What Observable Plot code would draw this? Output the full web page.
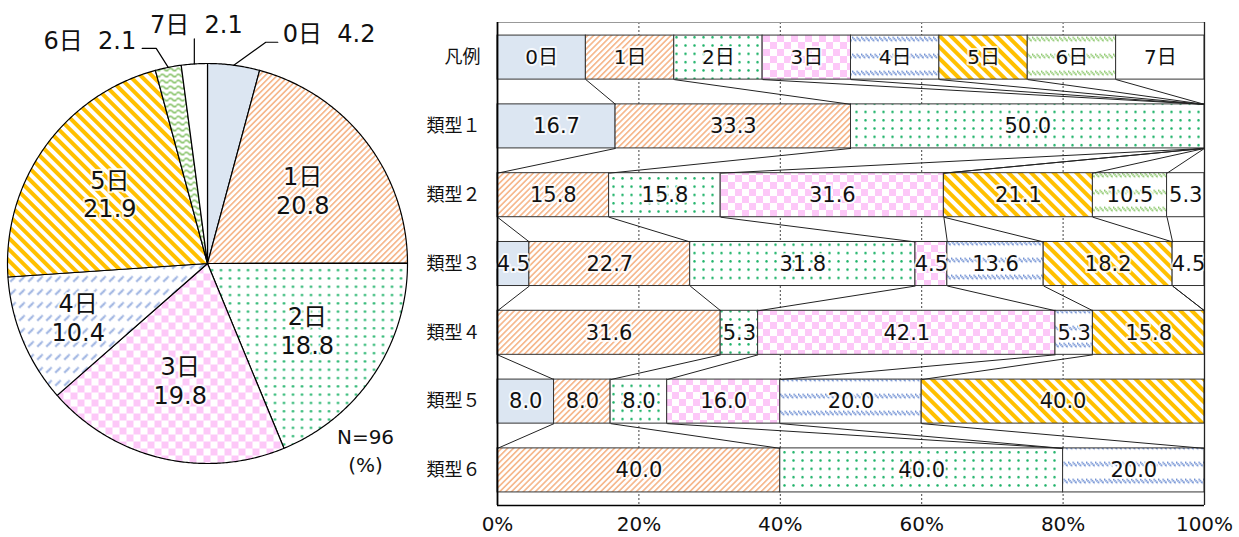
<!DOCTYPE html>
<html><head><meta charset="utf-8">
<script src="https://cdn.jsdelivr.net/npm/d3@7"></script>
<script src="https://cdn.jsdelivr.net/npm/@observablehq/plot@0.6"></script>
<style>
html,body{margin:0;padding:0;background:#fff;}
#wrap{display:flex;width:1239px;height:537px;overflow:hidden;}
#pie,#bar{flex:none;}
</style></head><body>
<svg width="0" height="0" style="position:absolute">
<defs>
<pattern id="p1" patternUnits="userSpaceOnUse" width="4.2" height="4.2" patternTransform="rotate(-45)"><rect width="4.2" height="4.2" fill="#fff"/><rect width="4.2" height="1.7" fill="#f6b98f"/></pattern>
<pattern id="p2" patternUnits="userSpaceOnUse" width="9" height="8.3"><rect width="9" height="8.3" fill="#fff"/><circle cx="4.5" cy="4.1" r="1.25" fill="#1fb36a"/></pattern>
<pattern id="p3" patternUnits="userSpaceOnUse" width="14" height="14"><rect width="14" height="14" fill="#fff"/><rect width="7" height="7" fill="#fdc8f8"/><rect x="7" y="7" width="7" height="7" fill="#fdc8f8"/></pattern>
<pattern id="p4" patternUnits="userSpaceOnUse" width="4.5" height="17"><rect width="4.5" height="17" fill="#fff"/><line x1="0" y1="3" x2="4.5" y2="7.5" stroke="#6f8fd3" stroke-width="2" stroke-dasharray="1.4,0.6"/></pattern>
<pattern id="p4pie" patternUnits="userSpaceOnUse" width="9" height="13"><rect width="9" height="13" fill="#fff"/><line x1="1" y1="8" x2="6" y2="3" stroke="#6f8fd3" stroke-width="2" stroke-dasharray="1.4,0.6"/></pattern>
<pattern id="p5" patternUnits="userSpaceOnUse" width="8" height="8" patternTransform="rotate(45)"><rect width="8" height="8" fill="#fff"/><rect width="8" height="4" fill="#ffc000"/></pattern>
<pattern id="p6" patternUnits="userSpaceOnUse" width="4.5" height="17"><rect width="4.5" height="17" fill="#fff"/><line x1="0" y1="3" x2="4.5" y2="7.5" stroke="#8cc86c" stroke-width="2" stroke-dasharray="1.4,0.6"/></pattern>
<pattern id="p6pie" patternUnits="userSpaceOnUse" width="8" height="6"><rect width="8" height="6" fill="#fff"/><path d="M0,3 Q2,0.5 4,3 T8,3" fill="none" stroke="#7fbf5f" stroke-width="1.6"/></pattern>
</defs></svg>
<div id="wrap"><div id="pie"></div><div id="bar"></div></div>
<script>
// ---- data ----
const cats = ["0日","1日","2日","3日","4日","5日","6日","7日"];
const pieValues = [4.2, 20.8, 18.8, 19.8, 10.4, 21.9, 2.1, 2.1];
const pieN = "N=96";
const rowLabels = ["凡例","類型１","類型２","類型３","類型４","類型５","類型６"];
const legendShares = [1,1,1,1,1,1,1,1];
const type1 = [16.7, 33.3, 50.0, 0, 0, 0, 0, 0];
const type2 = [0, 15.8, 15.8, 31.6, 0, 21.1, 10.5, 5.3];
const type3 = [4.5, 22.7, 31.8, 4.5, 13.6, 18.2, 0, 4.5];
const type4 = [0, 31.6, 5.3, 42.1, 5.3, 15.8, 0, 0];
const type5 = [8.0, 8.0, 8.0, 16.0, 20.0, 40.0, 0, 0];
const type6 = [0, 40.0, 40.0, 0, 20.0, 0, 0, 0];
const xTicks = [0, 20, 40, 60, 80, 100];

// ---- styles ----
const barFills = ["#dce6f2","url(#p1)","url(#p2)","url(#p3)","url(#p4)","url(#p5)","url(#p6)","#ffffff"];
const pieFills = ["#dce6f2","url(#p1)","url(#p2)","url(#p3)","url(#p4pie)","url(#p5)","url(#p6pie)","#ffffff"];
const FONT = "'DejaVu Sans','Noto Sans CJK JP',sans-serif";
const JFONT = "'Noto Sans CJK JP',sans-serif";

// ---- pie ----
const total = d3.sum(pieValues);
let acc = 0;
const slices = pieValues.map((v, k) => {
  const a0 = acc / total * 2 * Math.PI; acc += v;
  const a1 = acc / total * 2 * Math.PI;
  return {k, v, a0, a1, mid: (a0 + a1) / 2};
});
const pieLines = [];
for (const s of slices) {
  const n = Math.max(2, Math.ceil((s.a1 - s.a0) / (Math.PI / 360)));
  pieLines.push({cat: cats[s.k], x: 0, y: 0, fill: pieFills[s.k]});
  for (let i = 0; i <= n; i++) {
    const a = s.a0 + (s.a1 - s.a0) * i / n;
    pieLines.push({cat: cats[s.k], x: Math.sin(a), y: Math.cos(a), fill: pieFills[s.k]});
  }
  pieLines.push({cat: cats[s.k], x: 0, y: 0, fill: pieFills[s.k]});
}
const inner = slices.filter(s => s.v > 5).map(s => {
  const r = s.k === 4 ? 0.70 : 0.60;
  return {x: r * Math.sin(s.mid), y: r * Math.cos(s.mid), text: cats[s.k] + "\n" + pieValues[s.k].toFixed(1)};
});
// outside labels: leader offsets in px (layout)
const R = 200;
const outerLayout = {0: {ex: 32, ey: -23, tx: 12, anchor: "start", gx: 5, gy: -8},
                     6: {ex: -12, ey: -19, tx: -14, anchor: "end", gx: -6, gy: -7},
                     7: {ex: 0, ey: -25, tx: 0, anchor: "middle", gx: 2, gy: -14}};
const leader = [], outer = [];
for (const s of slices.filter(s => s.v <= 5)) {
  const L = outerLayout[s.k];
  const sx = Math.sin(s.mid), sy = Math.cos(s.mid);
  const ex = sx + L.ex / R, ey = sy - L.ey / R;
  const tx = ex + L.tx / R;
  leader.push({id: s.k, x: sx, y: sy}, {id: s.k, x: ex, y: ey}, {id: s.k, x: tx, y: ey});
  outer.push({x: tx + L.gx / R, y: ey - L.gy / R, text: cats[s.k] + "\u00a0\u00a0" + pieValues[s.k].toFixed(1), anchor: L.anchor});
}

const pie = Plot.plot({
  width: 420, height: 537,
  marginLeft: 7, marginRight: 13, marginTop: 63, marginBottom: 74,
  x: {domain: [-1, 1], axis: null},
  y: {domain: [-1, 1], axis: null},
  color: {type: "identity"},
  style: {fontFamily: FONT, fontSize: "24px", background: "white", overflow: "visible"},
  marks: [
    Plot.line(pieLines, {x: "x", y: "y", z: "cat", fill: "fill", stroke: "#000", strokeWidth: 1.2, strokeLinejoin: "round"}),
    Plot.text(inner, {x: "x", y: "y", text: "text", lineHeight: 1.2, fill: "#111", stroke: "white", strokeWidth: 4, strokeOpacity: 0.8, fontSize: 24}),
    Plot.line(leader, {x: "x", y: "y", z: "id", stroke: "#000", strokeWidth: 1.2}),
    Plot.text(outer, {x: "x", y: "y", text: "text", textAnchor: "start", fill: "#111", fontSize: 24, filter: d => d.anchor === "start"}),
    Plot.text(outer, {x: "x", y: "y", text: "text", textAnchor: "end", fill: "#111", fontSize: 24, filter: d => d.anchor === "end"}),
    Plot.text(outer, {x: "x", y: "y", text: "text", textAnchor: "middle", fill: "#111", fontSize: 24, filter: d => d.anchor === "middle"}),
    Plot.text([pieN + "\n(%)"], {x: 0.79, y: -0.93, text: d => d, fontSize: 20, lineHeight: 1.4, fill: "#111"})
  ]
});
document.getElementById("pie").appendChild(pie);

// ---- bars ----
const rows = [legendShares, type1, type2, type3, type4, type5, type6];
const HALF = 0.32;
const bars = [], cumEnds = [];
rows.forEach((vals, r) => {
  const t = d3.sum(vals);
  let c = 0;
  const ends = [];
  vals.forEach((v, k) => {
    const x1 = c / t * 100; c += v;
    const x2 = c / t * 100;
    ends.push(x2);
    if (v > 0) bars.push({r, k, x1, x2, fill: barFills[k],
      label: r === 0 ? cats[k] : v.toFixed(1)});
  });
  cumEnds.push(ends);
});
const links = [];
for (let r = 0; r < rows.length - 1; r++) {
  for (let k = 0; k < cats.length - 1; k++) {
    links.push({x1: cumEnds[r][k], y1: r + HALF, x2: cumEnds[r + 1][k], y2: r + 1 - HALF});
  }
}
const YTOP = -0.51, YBOT = 6.51;
const bar = Plot.plot({
  width: 819, height: 537,
  marginLeft: 77, marginRight: 35, marginTop: 22, marginBottom: 32,
  x: {domain: [0, 100]},
  y: {domain: [YBOT, YTOP]},
  color: {type: "identity"},
  style: {fontFamily: FONT, fontSize: "20px", background: "white", overflow: "visible"},
  marks: [
    Plot.ruleX([20, 40, 60, 80], {stroke: "#444", strokeDasharray: "2,2", strokeWidth: 1}),
    Plot.rect(bars, {x1: "x1", x2: "x2", y1: d => d.r - HALF, y2: d => d.r + HALF, fill: "fill", stroke: "#333", strokeWidth: 1}),
    Plot.link(links, {x1: "x1", y1: "y1", x2: "x2", y2: "y2", stroke: "#222", strokeWidth: 1}),
    Plot.text(bars, {x: d => (d.x1 + d.x2) / 2, y: "r", text: "label", fill: "#111", stroke: "white", strokeWidth: 4, strokeOpacity: 0.8, fontSize: d => d.r === 0 ? 20 : 21}),
    Plot.ruleY([YTOP], {stroke: "#999", strokeWidth: 1.2}),
    Plot.ruleY([YBOT], {stroke: "#000", strokeWidth: 1.5}),
    Plot.ruleX([0], {stroke: "#000", strokeWidth: 1.8}),
    Plot.ruleX([100], {stroke: "#222", strokeWidth: 1.3}),
    Plot.axisY({ticks: d3.range(rowLabels.length), tickFormat: i => rowLabels[i], tickSize: 0, tickPadding: 17, fontSize: 18, fontFamily: JFONT, fill: "#111"}),
    Plot.axisX({ticks: xTicks, tickFormat: d => d + "%", tickSize: 0, tickPadding: 11, fontSize: 20, fill: "#111"})
  ]
});
document.getElementById("bar").appendChild(bar);
</script>
</body></html>
